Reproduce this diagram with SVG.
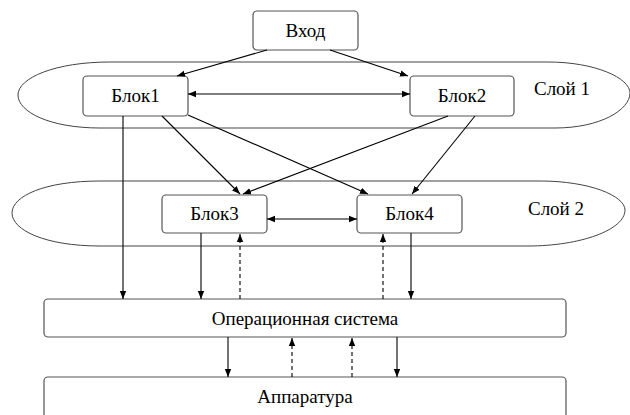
<svg xmlns="http://www.w3.org/2000/svg" width="630" height="415" viewBox="0 0 630 415">
<style>
.box{fill:#fff;stroke:#555;stroke-width:1.2}
.layer{fill:none;stroke:#444;stroke-width:1}
.t{font-family:'Liberation Serif','Times New Roman',serif;font-size:19px;fill:#000;text-anchor:middle}
.c{stroke:#000;stroke-width:1.1;fill:none}
.d{stroke-dasharray:4,3}
</style>
<defs>
<marker id="a" viewBox="0 0 10 10" refX="10" refY="5" markerWidth="8" markerHeight="8" orient="auto-start-reverse" markerUnits="userSpaceOnUse">
<path d="M0,1 L10,5 L0,9 z" fill="#000"/>
</marker>
</defs>
<rect width="630" height="415" fill="#fff"/>
<g id="layer1">
<path class="layer" d="M110,62 L548,62 C595,62 630,78 630,93 C630,110 600,128 555,128 L100,128 C50,128 18,112 18,95 C18,78 55,62 110,62 Z"/>
<text class="t" x="562" y="95">Слой 1</text>
</g>
<g id="layer2">
<path class="layer" d="M100,181 L540,181 C590,181 625,196 625,210 C625,230 580,246 528,246 L100,246 C45,246 12,230 12,213 C12,196 45,181 100,181 Z"/>
<text class="t" x="556" y="215">Слой 2</text>
</g>
<g id="vhod"><rect class="box" x="253" y="11" width="105" height="39" rx="4"/><text class="t" x="305.5" y="37">Вход</text></g>
<g id="blok1"><rect class="box" x="83" y="76" width="105" height="40" rx="4"/><text class="t" x="135.5" y="102">Блок1</text></g>
<g id="blok2"><rect class="box" x="410" y="76" width="104" height="40" rx="4"/><text class="t" x="462" y="102">Блок2</text></g>
<g id="blok3"><rect class="box" x="162" y="195" width="105" height="38" rx="4"/><text class="t" x="214.5" y="220">Блок3</text></g>
<g id="blok4"><rect class="box" x="357" y="195" width="105" height="38" rx="4"/><text class="t" x="409.5" y="220">Блок4</text></g>
<g id="os"><rect class="box" x="44" y="299" width="522" height="38" rx="4"/><text class="t" x="305" y="325">Операционная система</text></g>
<g id="hw"><rect class="box" x="44" y="377" width="522" height="50" rx="4"/><text class="t" x="305" y="403">Аппаратура</text></g>
<g id="connectors">
<line class="c" x1="267" y1="50" x2="177" y2="76" marker-end="url(#a)"/>
<line class="c" x1="330" y1="50" x2="408" y2="76" marker-end="url(#a)"/>
<line class="c" x1="188" y1="94" x2="410" y2="94" marker-start="url(#a)" marker-end="url(#a)"/>
<line class="c" x1="123" y1="116" x2="123" y2="299" marker-end="url(#a)"/>
<line class="c" x1="162" y1="116" x2="240" y2="194" marker-end="url(#a)"/>
<line class="c" x1="188" y1="115" x2="368" y2="194" marker-end="url(#a)"/>
<line class="c" x1="448" y1="116" x2="243" y2="194" marker-end="url(#a)"/>
<line class="c" x1="475" y1="116" x2="412" y2="194" marker-end="url(#a)"/>
<line class="c" x1="267" y1="219" x2="357" y2="219" marker-start="url(#a)" marker-end="url(#a)"/>
<line class="c" x1="201" y1="233" x2="201" y2="299" marker-end="url(#a)"/>
<line class="c d" x1="240" y1="299" x2="240" y2="234" marker-end="url(#a)"/>
<line class="c d" x1="383" y1="299" x2="383" y2="234" marker-end="url(#a)"/>
<line class="c" x1="411" y1="233" x2="411" y2="299" marker-end="url(#a)"/>
<line class="c" x1="228" y1="337" x2="228" y2="377" marker-end="url(#a)"/>
<line class="c d" x1="292" y1="377" x2="292" y2="338" marker-end="url(#a)"/>
<line class="c d" x1="352" y1="377" x2="352" y2="338" marker-end="url(#a)"/>
<line class="c" x1="397" y1="337" x2="397" y2="377" marker-end="url(#a)"/>
</g>
</svg>
